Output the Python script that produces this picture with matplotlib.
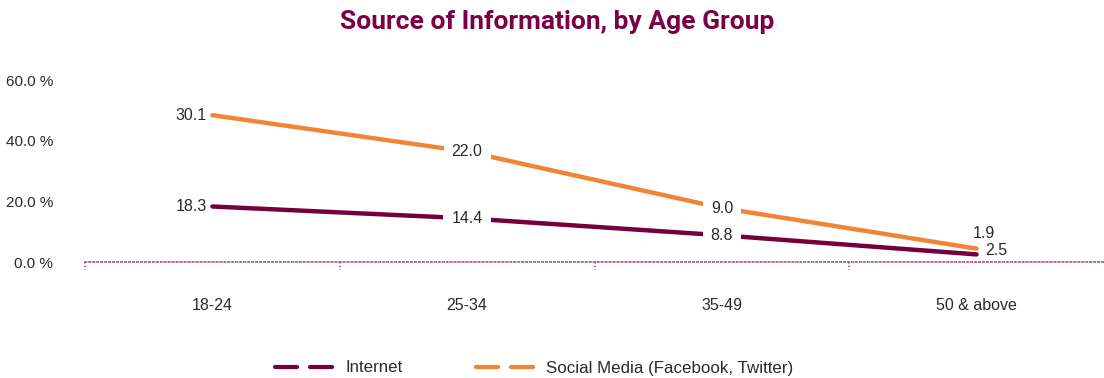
import matplotlib
matplotlib.use("Agg")
import matplotlib.pyplot as plt
from matplotlib.lines import Line2D
import numpy as np

categories = ["18-24", "25-34", "35-49", "50 & above"]
internet = [18.3, 14.4, 8.8, 2.5]
social = [30.1, 22.0, 9.0, 1.9]
yticks = [0, 20, 40, 60]
ytick_labels = ["0.0 %", "20.0 %", "40.0 %", "60.0 %"]
series_names = ["Internet", "Social Media (Facebook, Twitter)"]

PURPLE = "#76003f"
ORANGE = "#f08536"
TITLE_C = "#7b0046"
AXIS_C = "#a0457a"
TEXT_C = "#2a2a2a"

plt.rcParams['font.family'] = ['Liberation Sans', 'DejaVu Sans']

fig = plt.figure(figsize=(11.04, 3.78), dpi=100)
ax = fig.add_axes([85/1104, 1 - 262/378, (1104 - 85)/1104, (262 - 80)/378])

x = np.arange(len(categories))
stack = np.array(internet) + np.array(social)

ax.plot(x, internet, color=PURPLE, lw=3.2, solid_capstyle='round', zorder=2)
ax.plot(x, stack, color=ORANGE, lw=3.2, solid_capstyle='round', zorder=2)

ax.set_xlim(-0.5, len(categories) - 0.5)
ax.set_ylim(0, 60)

fs = 11.5
for i in range(len(categories)):
    for vals, lab in ((internet, internet[i]), (stack, social[i])):
        y = vals[i]
        txt = f"{lab:.1f}"
        if i == 0:
            ax.annotate(txt, (x[i], y), xytext=(-4, 0), textcoords='offset points',
                        ha='right', va='center', fontsize=fs, color=TEXT_C)
        elif i < len(categories) - 1:
            ax.annotate(txt, (x[i], y), ha='center', va='center', fontsize=fs,
                        color=TEXT_C, zorder=3,
                        bbox=dict(boxstyle='square,pad=0.5', fc='white', ec='none'))
i = len(categories) - 1
ax.annotate(f"{social[i]:.1f}", (x[i], stack[i]), xytext=(5, 11), textcoords='offset points',
            ha='center', va='center', fontsize=fs, color=TEXT_C)
ax.annotate(f"{internet[i]:.1f}", (x[i], internet[i]), xytext=(14, 2.5), textcoords='offset points',
            ha='center', va='center', fontsize=fs, color=TEXT_C)

for s in ['top', 'right', 'left']:
    ax.spines[s].set_visible(False)
ax.spines['bottom'].set_linestyle((0, (1, 1.6)))
ax.spines['bottom'].set_color(AXIS_C)
ax.spines['bottom'].set_linewidth(1.1)

ax.set_yticks(yticks)
ax.set_yticklabels(ytick_labels, fontsize=11, color=TEXT_C)
ax.tick_params(axis='y', length=0, pad=23)

ax.set_xticks(x)
ax.set_xticklabels(categories, fontsize=fs, color=TEXT_C)
ax.tick_params(axis='x', which='major', length=0, pad=26)

bounds = np.arange(-0.5, len(categories) - 0.5, 1.0)
ax.vlines(bounds, 0, -0.045, transform=ax.get_xaxis_transform(), clip_on=False,
          colors=AXIS_C, linestyles=(0, (1, 1.4)), linewidth=1.1)

fig.text(0.505, 1 - 22/378, "Source of Information, by Age Group", ha='center', va='center',
         fontsize=19, fontweight='bold', color=TITLE_C, family=['Roboto', 'DejaVu Sans'])

handles = [Line2D([], [], color=PURPLE, lw=3, dashes=(5.3, 3.1), dash_capstyle='round'),
           Line2D([], [], color=ORANGE, lw=3, dashes=(5.3, 3.1), dash_capstyle='round')]
fig.legend(handles, series_names, loc='center', bbox_to_anchor=(0.484, 1 - 368/378),
           ncol=2, frameon=False, handlelength=4.0, columnspacing=4.3,
           handletextpad=0.15, labelcolor=TEXT_C, prop={'size': 12.2})

fig.savefig("out.png", dpi=100)
